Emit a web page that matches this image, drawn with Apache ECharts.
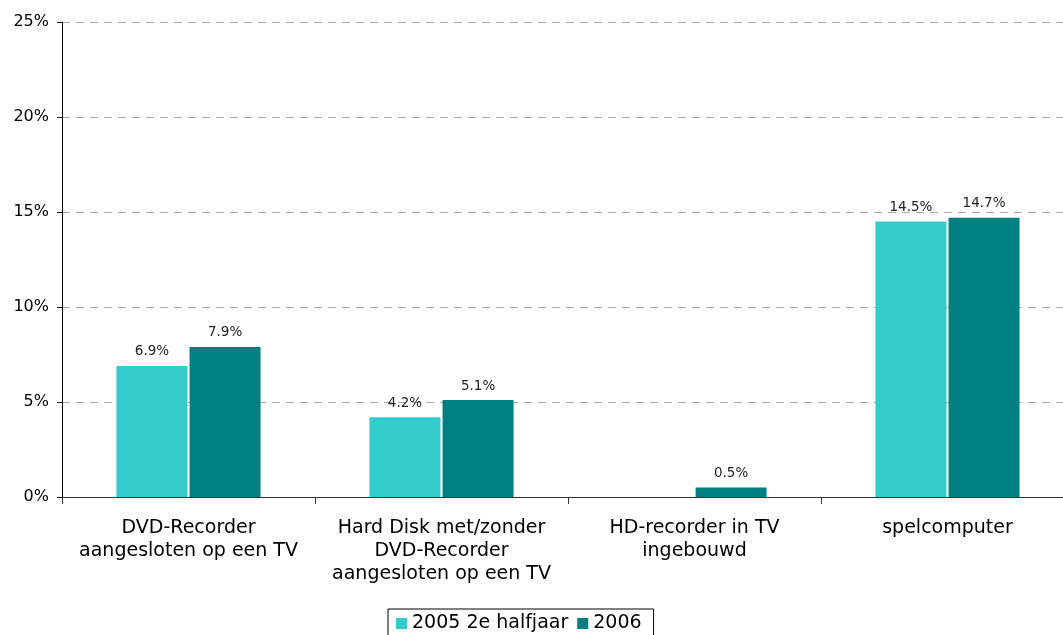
<!DOCTYPE html>
<html>
<head>
<meta charset="utf-8">
<script src="https://cdn.jsdelivr.net/npm/echarts@6/dist/echarts.min.js"></script>
<style>
html, body { margin: 0; padding: 0; background: #fff; }
#chart { width: 1063px; height: 635px; }
</style>
</head>
<body>
<div id="chart"></div>
<script>
var categories = [
    'DVD-Recorder\naangesloten op een TV',
    'Hard Disk met/zonder\nDVD-Recorder\naangesloten op een TV',
    'HD-recorder in TV\ningebouwd',
    'spelcomputer'
];
var seriesNames = ['2005 2e halfjaar', '2006'];
var values2005 = [6.9, 4.2, null, 14.5];
var values2006 = [7.9, 5.1, 0.5, 14.7];
var colors = ['#33CCCC', '#008080'];

var font = 'Verdana, "DejaVu Sans", sans-serif';

function makeSeries(name, data, color) {
    return {
        name: name,
        type: 'bar',
        data: data,
        barWidth: 71,
        barGap: '3%',
        itemStyle: { color: color },
        label: {
            show: true,
            position: 'top',
            distance: 7,
            fontFamily: font,
            fontSize: 13.5,
            color: '#222',
            formatter: function (p) { return p.value.toFixed(1) + '%'; }
        }
    };
}

var myChart = echarts.init(document.getElementById('chart'));
var option = {
    animation: false,
    grid: { left: 62, width: 1012, top: 22, bottom: 138, outerBoundsMode: 'none', containLabel: false },
    legend: {
        top: 609,
        left: 388,
        itemWidth: 11,
        itemHeight: 11,
        itemGap: 9,
        padding: [5, 12, 5, 8],
        borderColor: '#000',
        borderWidth: 1,
        icon: 'rect',
        textStyle: { fontFamily: font, fontSize: 19, color: '#000' },
        data: seriesNames
    },
    xAxis: {
        type: 'category',
        data: categories,
        axisLine: { lineStyle: { color: '#333', width: 1 } },
        axisTick: { show: true, length: 7, lineStyle: { color: '#333' } },
        axisLabel: {
            fontFamily: font,
            fontSize: 19,
            color: '#000',
            margin: 20,
            lineHeight: 23,
            interval: 0
        }
    },
    yAxis: {
        type: 'value',
        min: 0,
        max: 25,
        interval: 5,
        axisLine: { show: true, lineStyle: { color: '#000' } },
        axisTick: { show: true, length: 5, lineStyle: { color: '#000' } },
        axisLabel: {
            fontFamily: font,
            fontSize: 16,
            color: '#000',
            margin: 13,
            formatter: '{value}%'
        },
        splitLine: { lineStyle: { color: '#aaa', type: [8, 6] } }
    },
    series: [
        makeSeries(seriesNames[0], values2005, colors[0]),
        makeSeries(seriesNames[1], values2006, colors[1])
    ]
};
myChart.setOption(option);
</script>
</body>
</html>
